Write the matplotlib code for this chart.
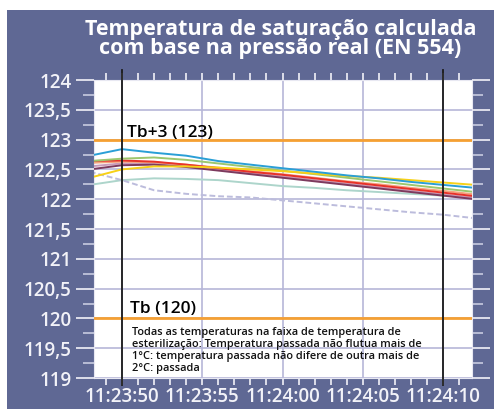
import matplotlib
matplotlib.use("Agg")
import matplotlib.pyplot as plt
import matplotlib.dates as mdates
from matplotlib.patches import Rectangle
import pandas as pd

# tiempos de muestra (cada 2 s)
horas = ["11:23:48", "11:23:50", "11:23:52", "11:23:54", "11:23:56", "11:23:58", "11:24:00",
         "11:24:02", "11:24:04", "11:24:06", "11:24:08", "11:24:10", "11:24:12"]

# temperaturas de saturacion por sensor
azul     = [122.73, 122.84, 122.78, 122.73, 122.64, 122.58, 122.52, 122.46, 122.40, 122.35, 122.29, 122.24, 122.19]
amarillo = [122.36, 122.50, 122.55, 122.55, 122.53, 122.50, 122.47, 122.43, 122.39, 122.36, 122.32, 122.28, 122.24]
verde    = [122.64, 122.68, 122.70, 122.66, 122.60, 122.54, 122.48, 122.42, 122.36, 122.30, 122.24, 122.18, 122.12]
rojo     = [122.64, 122.65, 122.63, 122.58, 122.52, 122.46, 122.41, 122.35, 122.29, 122.23, 122.17, 122.11, 122.05]
salmon   = [122.61, 122.63, 122.62, 122.58, 122.53, 122.47, 122.42, 122.36, 122.30, 122.25, 122.19, 122.14, 122.08]
malva    = [122.55, 122.60, 122.60, 122.55, 122.50, 122.44, 122.38, 122.32, 122.26, 122.20, 122.14, 122.08, 122.02]
morado   = [122.50, 122.57, 122.58, 122.54, 122.48, 122.42, 122.36, 122.30, 122.24, 122.18, 122.12, 122.06, 122.00]
turquesa = [122.24, 122.32, 122.35, 122.34, 122.32, 122.27, 122.22, 122.19, 122.15, 122.12, 122.09, 122.06, 122.03]
lavanda  = [122.46, 122.32, 122.15, 122.09, 122.05, 122.03, 121.98, 121.93, 121.88, 121.83, 121.78, 121.74, 121.68]

series = [
    (turquesa, "#add5cb", "-"),
    (lavanda, "#bcbcdc", (0, (3, 1.5))),
    (malva, "#c99ab9", "-"),
    (morado, "#7d3a5e", "-"),
    (salmon, "#f4a27c", "-"),
    (rojo, "#e8322a", "-"),
    (verde, "#9cc76e", "-"),
    (amarillo, "#f7d117", "-"),
    (azul, "#2a9fd6", "-"),
]

limite_sup = 123
limite_inf = 120
titulo = "Temperatura de saturação calculada\ncom base na pressão real (EN 554)"
nota = ("Todas as temperaturas na faixa de temperatura de\n"
        "esterilização: Temperatura passada não flutua mais de\n"
        "1°C: temperatura passada não difere de outra mais de\n"
        "2°C: passada")

t = pd.to_datetime(["2020-01-01 " + h for h in horas])
t0 = pd.Timestamp("2020-01-01 11:23:50")
t1 = pd.Timestamp("2020-01-01 11:24:10")

fondo = "#5f6894"
claro = "#f2f2f8"

fig = plt.figure(figsize=(4.94, 4.09), dpi=100)
fig.patch.set_facecolor("white")
fig.patches.append(Rectangle((7 / 494, 0), 1, 399 / 409, transform=fig.transFigure,
                             facecolor=fondo, edgecolor="none", zorder=-10))

ax = fig.add_axes([94 / 494, 31 / 409, 378 / 494, 298 / 409])
ax.set_facecolor("white")

for vals, col, ls in series:
    ax.plot(t, vals, color=col, lw=1.4, ls=ls, zorder=3)

ax.axhline(limite_sup, color="#f5a033", lw=2, zorder=4)
ax.axhline(limite_inf, color="#f5a033", lw=2, zorder=4)
for x in (t0, t1):
    ax.axvline(x, color="#1a1a1a", lw=1.3, ymin=-0.025, ymax=1.035, clip_on=False, zorder=5)

ax.set_ylim(119, 124)
ax.set_xlim(t0 - pd.Timedelta(seconds=1.74), t1 + pd.Timedelta(seconds=1.8))

ax.set_yticks([119 + 0.5 * i for i in range(11)])
ax.set_yticks([119.25 + 0.5 * i for i in range(10)], minor=True)
ax.set_yticklabels([f"{v:g}".replace(".", ",") for v in ax.get_yticks()])
ax.xaxis.set_major_locator(mdates.SecondLocator(bysecond=range(0, 60, 5)))
ax.xaxis.set_minor_locator(mdates.SecondLocator())
ax.xaxis.set_major_formatter(mdates.DateFormatter("%H:%M:%S"))

ax.grid(True, which="major", color="#b6b6d8", lw=1.2)
ax.set_axisbelow(True)
for s in ax.spines.values():
    s.set_color("#e8e8f2")

ax.tick_params(axis="y", which="major", length=13, width=1.2, color=claro, direction="out",
               labelcolor=claro, labelsize=13.5, pad=3, right=True)
ax.tick_params(axis="y", which="minor", length=8, width=1.2, color="#c8cbe0", direction="out", right=True)
ax.tick_params(axis="x", which="both", length=5, width=1.2, color=claro, direction="out",
               labelcolor=claro, labelsize=13.5, pad=1.5, top=True)
for lbl in ax.get_yticklabels() + ax.get_xticklabels():
    lbl.set_fontweight("semibold")
    lbl.set_family("Open Sans")

ax.text(0.087, 0.81, "Tb+3 (123)", transform=ax.transAxes, fontsize=12.5, family="Open Sans",
        fontweight="semibold", color="black")
ax.text(0.095, 0.218, "Tb (120)", transform=ax.transAxes, fontsize=12.5, family="Open Sans",
        fontweight="semibold", color="black")
ax.text(0.10, 0.172, nota, transform=ax.transAxes, fontsize=7.9, family="Open Sans",
        fontweight="semibold", color="#111111", va="top", linespacing=1.15)

fig.text(0.568, 0.905, titulo, ha="center", va="center", fontsize=15.5, family="Open Sans",
         fontweight="bold", color="white", linespacing=0.9)

fig.savefig("out.png", dpi=100, facecolor=fig.get_facecolor())
